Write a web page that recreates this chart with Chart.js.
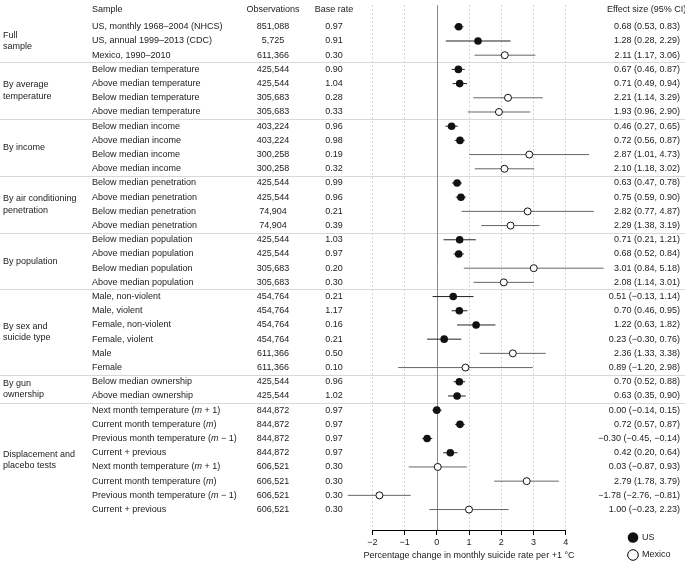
<!DOCTYPE html>
<html>
<head>
<meta charset="utf-8">
<script src="https://cdn.jsdelivr.net/npm/chart.js@4.4.1/dist/chart.umd.min.js"></script>
<style>html,body{margin:0;padding:0;background:#fff}</style>
</head>
<body>
<canvas id="forest" width="685" height="562"></canvas>
<script>
var groupNames = ['Full\nsample', 'By average\ntemperature', 'By income', 'By air conditioning\npenetration',
    'By population', 'By sex and\nsuicide type', 'By gun\nownership', 'Displacement and\nplacebo tests']
var groupSizes = [3, 4, 4, 4, 4, 6, 2, 8]

var sampleLabels = [
    'US, monthly 1968\u20132004 (NHCS)', 'US, annual 1999\u20132013 (CDC)', 'Mexico, 1990\u20132010',
    'Below median temperature', 'Above median temperature', 'Below median temperature', 'Above median temperature',
    'Below median income', 'Above median income', 'Below median income', 'Above median income',
    'Below median penetration', 'Above median penetration', 'Below median penetration', 'Above median penetration',
    'Below median population', 'Above median population', 'Below median population', 'Above median population',
    'Male, non-violent', 'Male, violent', 'Female, non-violent', 'Female, violent', 'Male', 'Female',
    'Below median ownership', 'Above median ownership',
    'Next month temperature (*m* + 1)', 'Current month temperature (*m*)', 'Previous month temperature (*m* \u2212 1)', 'Current + previous',
    'Next month temperature (*m* + 1)', 'Current month temperature (*m*)', 'Previous month temperature (*m* \u2212 1)', 'Current + previous'
]
var observations = ['851,088', '5,725', '611,366',
    '425,544', '425,544', '305,683', '305,683',
    '403,224', '403,224', '300,258', '300,258',
    '425,544', '425,544', '74,904', '74,904',
    '425,544', '425,544', '305,683', '305,683',
    '454,764', '454,764', '454,764', '454,764', '611,366', '611,366',
    '425,544', '425,544',
    '844,872', '844,872', '844,872', '844,872', '606,521', '606,521', '606,521', '606,521']
var baseRates = [0.97, 0.91, 0.30,
    0.90, 1.04, 0.28, 0.33,
    0.96, 0.98, 0.19, 0.32,
    0.99, 0.96, 0.21, 0.39,
    1.03, 0.97, 0.20, 0.30,
    0.21, 1.17, 0.16, 0.21, 0.50, 0.10,
    0.96, 1.02,
    0.97, 0.97, 0.97, 0.97, 0.30, 0.30, 0.30, 0.30]
var effects = [0.68, 1.28, 2.11,
    0.67, 0.71, 2.21, 1.93,
    0.46, 0.72, 2.87, 2.10,
    0.63, 0.75, 2.82, 2.29,
    0.71, 0.68, 3.01, 2.08,
    0.51, 0.70, 1.22, 0.23, 2.36, 0.89,
    0.70, 0.63,
    0.00, 0.72, -0.30, 0.42, 0.03, 2.79, -1.78, 1.00]
var ciLow = [0.53, 0.28, 1.17,
    0.46, 0.49, 1.14, 0.96,
    0.27, 0.56, 1.01, 1.18,
    0.47, 0.59, 0.77, 1.38,
    0.21, 0.52, 0.84, 1.14,
    -0.13, 0.46, 0.63, -0.30, 1.33, -1.20,
    0.52, 0.35,
    -0.14, 0.57, -0.45, 0.20, -0.87, 1.78, -2.76, -0.23]
var ciHigh = [0.83, 2.29, 3.06,
    0.87, 0.94, 3.29, 2.90,
    0.65, 0.87, 4.73, 3.02,
    0.78, 0.90, 4.87, 3.19,
    1.21, 0.84, 5.18, 3.01,
    1.14, 0.95, 1.82, 0.76, 3.38, 2.98,
    0.88, 0.90,
    0.15, 0.87, -0.14, 0.64, 0.93, 3.79, -0.81, 2.23]
var country = ['US', 'US', 'MX',
    'US', 'US', 'MX', 'MX',
    'US', 'US', 'MX', 'MX',
    'US', 'US', 'MX', 'MX',
    'US', 'US', 'MX', 'MX',
    'US', 'US', 'US', 'US', 'MX', 'MX',
    'US', 'US',
    'US', 'US', 'US', 'US', 'MX', 'MX', 'MX', 'MX']
var xTicks = [-2, -1, 0, 1, 2, 3, 4]

const FONT = '"Liberation Sans", Arial, Helvetica, sans-serif'
const TXT = '#222'

function minus(s) { return String(s).replace(/-/g, '\u2212') }
function fmt(v) { return minus(v.toFixed(2)) }

// points and error bar segments per country
function pointsFor(c) {
    let out = []
    effects.forEach((e, i) => { if (country[i] == c) out.push({x: e, y: i}) })
    return out
}
function barsFor(c) {
    let out = []
    effects.forEach((e, i) => {
        if (country[i] != c) return
        out.push({x: ciLow[i], y: i}, {x: ciHigh[i], y: i}, {x: NaN, y: NaN})
    })
    return out
}

// italic parts are wrapped in *...*
function drawRich(ctx, str, x, y) {
    str.split('*').forEach((p, i) => {
        ctx.font = (i % 2 ? 'italic ' : '') + '9px ' + FONT
        ctx.fillText(p, x, y)
        x += ctx.measureText(p).width
    })
}

const tablePlugin = {
    id: 'table',
    beforeDatasetsDraw(chart) {
        let ctx = chart.ctx, ys = chart.scales.y, xs = chart.scales.x
        ctx.save()
        // group separators
        ctx.strokeStyle = '#d8d8d8'
        ctx.lineWidth = 1
        let n = 0
        groupSizes.forEach((g, k) => {
            n += g
            if (k == groupSizes.length - 1) return
            let y = Math.round(ys.getPixelForValue(n - 0.5)) + 0.5
            ctx.beginPath(); ctx.moveTo(0, y); ctx.lineTo(chart.width, y); ctx.stroke()
        })
        // zero line
        let x0 = Math.round(xs.getPixelForValue(0)) + 0.5
        ctx.strokeStyle = '#8a8a8a'
        ctx.beginPath(); ctx.moveTo(x0, chart.chartArea.top); ctx.lineTo(x0, chart.chartArea.bottom); ctx.stroke()
        ctx.restore()
    },
    afterDraw(chart) {
        let ctx = chart.ctx, ys = chart.scales.y, xs = chart.scales.x
        ctx.save()
        ctx.fillStyle = TXT
        ctx.textBaseline = 'middle'
        ctx.font = '9px ' + FONT
        // header
        let hy = ys.getPixelForValue(-1.2)
        ctx.textAlign = 'left'
        ctx.fillText('Sample', 92, hy)
        ctx.fillText('Effect size (95% CI)', 607, hy)
        ctx.textAlign = 'center'
        ctx.fillText('Observations', 273, hy)
        ctx.fillText('Base rate', 334, hy)
        // rows
        sampleLabels.forEach((lab, i) => {
            let y = ys.getPixelForValue(i)
            ctx.textAlign = 'left'
            drawRich(ctx, lab, 92, y)
            ctx.font = '9px ' + FONT
            ctx.textAlign = 'center'
            ctx.fillText(observations[i], 273, y)
            ctx.fillText(baseRates[i].toFixed(2), 334, y)
            ctx.textAlign = 'right'
            ctx.fillText(fmt(effects[i]) + ' (' + fmt(ciLow[i]) + ', ' + fmt(ciHigh[i]) + ')', 680, y)
        })
        // group names
        ctx.textAlign = 'left'
        let start = 0
        groupNames.forEach((g, k) => {
            let mid = ys.getPixelForValue(start + (groupSizes[k] - 1) / 2)
            let lines = g.split('\n')
            lines.forEach((l, j) => ctx.fillText(l, 3, mid + (j - (lines.length - 1) / 2) * 11.5))
            start += groupSizes[k]
        })
        // x axis line from first to last tick
        let ay = Math.round(chart.chartArea.bottom) + 0.5
        ctx.strokeStyle = '#000'
        ctx.lineWidth = 1
        ctx.beginPath()
        ctx.moveTo(xs.getPixelForValue(xTicks[0]), ay)
        ctx.lineTo(xs.getPixelForValue(xTicks[xTicks.length - 1]), ay)
        ctx.stroke()
        // legend
        ctx.lineWidth = 1
        ctx.fillStyle = '#111'
        ctx.beginPath(); ctx.arc(633, 537.5, 5.3, 0, Math.PI * 2); ctx.fill()
        ctx.fillStyle = '#fff'
        ctx.beginPath(); ctx.arc(633, 555, 5.3, 0, Math.PI * 2); ctx.fill(); ctx.stroke()
        ctx.fillStyle = TXT
        ctx.font = '9px ' + FONT
        ctx.fillText('US', 642, 537.5)
        ctx.fillText('Mexico', 642, 555)
        ctx.restore()
    }
}

new Chart(document.getElementById('forest'), {
    type: 'scatter',
    data: {
        datasets: [{
            label: 'US',
            data: pointsFor('US'),
            pointRadius: 3.8,
            pointBackgroundColor: '#111',
            pointBorderColor: '#111',
            pointBorderWidth: 0,
            order: 0
        }, {
            label: 'Mexico',
            data: pointsFor('MX'),
            pointRadius: 3.5,
            pointBackgroundColor: '#fff',
            pointBorderColor: '#111',
            pointBorderWidth: 1,
            order: 0
        }, {
            label: 'US CI',
            data: barsFor('US'),
            showLine: true,
            spanGaps: false,
            borderColor: '#222',
            borderWidth: 1,
            pointRadius: 0,
            order: 1
        }, {
            label: 'Mexico CI',
            data: barsFor('MX'),
            showLine: true,
            spanGaps: false,
            borderColor: '#666',
            borderWidth: 1,
            pointRadius: 0,
            order: 1
        }]
    },
    options: {
        responsive: false,
        animation: false,
        layout: {padding: {left: 324, right: 71, top: 0, bottom: 0}},
        plugins: {legend: {display: false}, tooltip: {enabled: false}},
        scales: {
            x: {
                type: 'linear',
                min: -3.5,
                max: 5.5,
                afterBuildTicks: axis => { axis.ticks = xTicks.map(v => ({value: v})) },
                afterFit: axis => { axis.height = 32 },
                ticks: {
                    autoSkip: false,
                    padding: 2,
                    color: TXT,
                    font: {family: FONT, size: 9},
                    callback: v => minus(v)
                },
                grid: {
                    color: c => (c.tick && c.tick.value == 0) ? 'rgba(0,0,0,0)' : '#d4d4d4',
                    lineWidth: 1,
                    tickLength: 5,
                    tickColor: '#000',
                    tickBorderDash: [],
                    drawOnChartArea: true
                },
                border: {display: false, dash: [2, 2]},
                title: {
                    display: true,
                    text: 'Percentage change in monthly suicide rate per +1 \u00b0C',
                    color: TXT,
                    font: {family: FONT, size: 9},
                    padding: {top: 0, bottom: 1}
                }
            },
            y: {
                type: 'linear',
                display: false,
                reverse: true,
                min: -1.535,
                max: 35.44
            }
        }
    },
    plugins: [tablePlugin]
})
</script>
</body>
</html>
